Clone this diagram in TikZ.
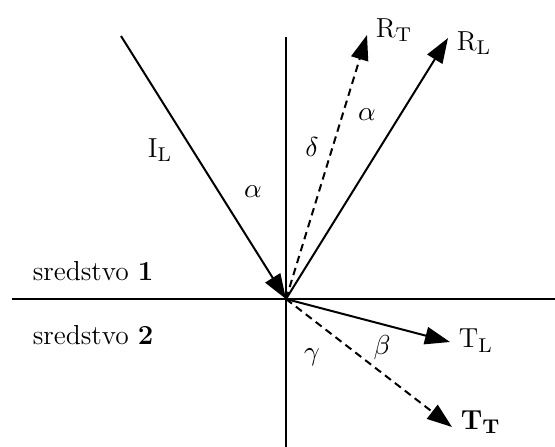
\documentclass[tikz,border=0pt]{standalone}
\usepackage{amsmath,amssymb}
\usepackage{tikz}
\usetikzlibrary{positioning,arrows.meta}

\tikzset{
	ray/.style={line width=0.8pt,-{Triangle[length=10pt,width=7pt]}},
	wave/.style={ray,dashed,dash pattern=on 3pt off 2pt},
	axis/.style={line width=0.6pt}
}

\begin{document}
\begin{tikzpicture}[x=0.4pt,y=-0.4pt,font=\fontsize{11}{13}\selectfont]
		
		\useasboundingbox (0,0) rectangle (555,447);
		
		% granica i normala
		\coordinate (hl) at (12,299);
		\coordinate (hr) at (555,299);
		\coordinate (vt) at (286,37);
		\coordinate (vb) at (286,447);
		\draw[axis] (hl)--(hr);
		\draw[axis] (vt)--(vb);
		
		\coordinate (O) at (286,299);
		\coordinate (il) at (121,36);
		\coordinate (rt) at (367,35);
		\coordinate (rl) at (448,38);
		\coordinate (tl) at (450,342);
		\coordinate (tt) at (452,427);
		
		\draw[ray] (il)--(O);
		\draw[wave] (O)--(rt);
		\draw[ray] (O)--(rl);
		\draw[ray] (O)--(tl);
		\draw[wave] (O)--(tt);
		
		\node[right=0pt of rt,yshift=2pt] (lRT) {R$_{\mathrm{T}}$};
		\node[right=0pt of rl,yshift=-2pt] (lRL) {R$_{\mathrm{L}}$};
		\node[right=0pt of tl,yshift=0.5pt] (lTL) {T$_{\mathrm{L}}$};
		\node[right=0pt of tt,yshift=2pt] (lTT) {\textbf{T}$_{\mathbf{T}}$};
		\node (lIL) at (160,150) {I$_{\mathrm{L}}$};
		
		\foreach \x/\y/\lab/\nm in {253/192/\alpha/a1, 367/115/\alpha/a2, 312/147/\delta/d, 312/357/\gamma/g, 382/348/\beta/b}
		{
			\node (\nm) at (\x,\y) {$\lab$};
		}
		
		\node[anchor=west] (s1) at (24,271) {sredstvo \textbf{1}};
		\node[anchor=west] (s2) at (24,335) {sredstvo \textbf{2}};
		
	\end{tikzpicture}
\end{document}
